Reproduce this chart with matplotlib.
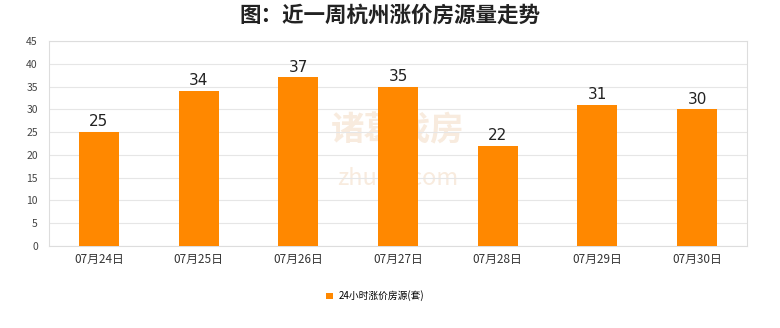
import matplotlib.pyplot as plt
import numpy as np

plt.rcParams['font.family'] = ['Noto Sans CJK SC', 'DejaVu Sans']

dates = ['07月24日', '07月25日', '07月26日', '07月27日', '07月28日', '07月29日', '07月30日']
counts = [25, 34, 37, 35, 22, 31, 30]
series_name = '24小时涨价房源(套)'

fig = plt.figure(figsize=(7.8, 3.28), dpi=100)
ax = fig.add_axes([49 / 780, 1 - 246 / 328, 698 / 780, 205 / 328])

x = np.arange(len(dates))
bars = ax.bar(x, counts, width=0.4, color='#FF8800', label=series_name, zorder=3)

for xi, v in zip(x, counts):
    ax.text(xi, v + 0.6, str(v), ha='center', va='bottom', fontsize=11, color='#222222',
            family='DejaVu Sans', zorder=4)

ax.set_xlim(-0.5, len(dates) - 0.5)
ax.set_ylim(0, 45)
ax.set_yticks(range(0, 46, 5))
ax.set_xticks(x)
ax.set_xticklabels(dates, fontsize=8.5, color='#333333')
ax.tick_params(axis='y', labelsize=7.5, colors='#444444', length=0, pad=8)
ax.tick_params(axis='x', length=0, pad=5)
ax.grid(axis='y', color='#e6e6e6', linewidth=0.8, zorder=0)
for s in ax.spines.values():
    s.set_color('#dddddd')
    s.set_linewidth(0.8)

# faint watermark behind the bars
ax.text(0.5, 0.56, '诸葛找房', transform=ax.transAxes, fontsize=24, color='#f8ebde',
        ha='center', va='center', fontweight='bold', zorder=1)
ax.text(0.5, 0.33, 'zhuge.com', transform=ax.transAxes, fontsize=17, color='#f8ebde',
        ha='center', va='center', zorder=1)

fig.suptitle('图：近一周杭州涨价房源量走势', y=0.985, fontsize=15.5, fontweight='bold', color='#222222')

fig.legend(handles=[bars], labels=[series_name], loc='center', bbox_to_anchor=(375 / 780, 1 - 296 / 328),
           frameon=False, fontsize=7, handlelength=0.7, handleheight=0.7, handletextpad=0.6)

fig.savefig('out.png', dpi=100)
